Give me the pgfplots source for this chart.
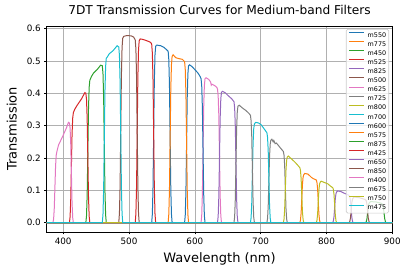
\documentclass[border=0pt]{standalone}
\usepackage{fontspec}
\setmainfont{DejaVu Sans}
\usepackage{pgfplots}
\pgfplotsset{compat=1.18}
\definecolor{c0}{HTML}{1F77B4}
\definecolor{c1}{HTML}{FF7F0E}
\definecolor{c2}{HTML}{2CA02C}
\definecolor{c3}{HTML}{D62728}
\definecolor{c4}{HTML}{9467BD}
\definecolor{c5}{HTML}{8C564B}
\definecolor{c6}{HTML}{E377C2}
\definecolor{c7}{HTML}{7F7F7F}
\definecolor{c8}{HTML}{BCBD22}
\definecolor{c9}{HTML}{17BECF}
\definecolor{gridc}{HTML}{B0B0B0}
\definecolor{legc}{HTML}{CCCCCC}
\pgfplotsset{legend image code/.code={\draw[#1] (0pt,2.35pt) -- (15pt,2.35pt);}}
\begin{document}
\begin{tikzpicture}
\path[use as bounding box] (-46.7pt,-40pt) rectangle (360.3pt,232pt);
\begin{axis}[
  at={(0pt,0pt)}, anchor=south west,
  scale only axis, width=345.6pt, height=206pt,
  xmin=375, xmax=900, ymin=-0.029, ymax=0.608,
  xtick={400,500,600,700,800,900},
  ytick={0,0.1,0.2,0.3,0.4,0.5,0.6},
  grid=major, major grid style={gridc, line width=0.6pt},
  axis line style={black, line width=0.6pt},
  tick style={black, line width=0.6pt}, major tick length=2.4pt,
  tick align=outside, tick pos=left,
  tick label style={font=\fontsize{8.8pt}{10pt}\selectfont},
  /pgf/number format/assume math mode=true,
  yticklabel style={/pgf/number format/.cd, fixed, fixed zerofill, precision=1},
  xticklabel style={/pgf/number format/.cd, fixed, precision=0, 1000 sep={}},
  title={7DT Transmission Curves for Medium-band Filters},
  every axis title shift=0pt,
  title style={at={(axis description cs:0.5,1.0534)}, anchor=base, yshift=0pt, font=\fontsize{12.2pt}{14pt}\selectfont},
  xlabel={Wavelength (nm)},
  xlabel style={at={(axis description cs:0.5,-0.1505)}, anchor=base, font=\fontsize{13pt}{15pt}\selectfont},
  ylabel={Transmission},
  ylabel style={at={(axis description cs:-0.0868,0.5)}, anchor=base, font=\fontsize{13pt}{15pt}\selectfont},
  legend cell align=left,
  legend style={at={(axis description cs:1,1)}, anchor=north east, xshift=-3.3pt, yshift=-3pt,
    draw=legc, fill=white, fill opacity=0.8, text opacity=1, rounded corners=1.5pt, line width=0.6pt,
    inner xsep=2.5pt, inner ysep=1pt, font=\fontsize{6.4pt}{7pt}\selectfont, row sep=0pt,
    nodes={inner sep=0pt, text height=6.9pt, text depth=2.19pt},
    /tikz/every odd column/.append style={column sep=3pt}},
  every axis plot/.append style={line width=1pt},
]
% m550
\addplot[c0] coordinates {(375,0)(534.5,0)(535.5,0.027)(536.5,0.109)(537.5,0.273)(538.5,0.436)(539.5,0.518)(540.5,0.545)(542,0.549)(548,0.547)(553,0.542)(557,0.535)(559.5,0.53)(560.5,0.504)(561.5,0.424)(562.5,0.265)(563.5,0.106)(564.5,0.027)(565.5,0)(900,0)};
\addlegendentry{m550}
% m775
\addplot[c1] coordinates {(375,0)(759.5,0)(760.5,0.007)(761.5,0.03)(762.5,0.074)(763.5,0.118)(764.5,0.141)(765.5,0.148)(767,0.152)(772,0.15)(777,0.14)(780,0.136)(784.5,0.132)(785.5,0.125)(786.5,0.106)(787.5,0.066)(788.5,0.026)(789.5,0.007)(790.5,0)(900,0)};
\addlegendentry{m775}
% m450
\addplot[c2] coordinates {(375,0)(434.5,0)(435.5,0.022)(436.5,0.088)(437.5,0.22)(438.5,0.352)(439.5,0.418)(440.5,0.44)(443,0.452)(446,0.462)(452,0.474)(457,0.487)(459.5,0.485)(460.5,0.461)(461.5,0.388)(462.5,0.243)(463.5,0.097)(464.5,0.024)(465.5,0)(900,0)};
\addlegendentry{m450}
% m525
\addplot[c3] coordinates {(375,0)(509.5,0)(510.5,0.028)(511.5,0.112)(512.5,0.281)(513.5,0.45)(514.5,0.534)(515.5,0.562)(517,0.568)(520,0.567)(525,0.564)(530,0.56)(533,0.557)(534.5,0.552)(535.5,0.524)(536.5,0.442)(537.5,0.276)(538.5,0.11)(539.5,0.028)(540.5,0)(900,0)};
\addlegendentry{m525}
% m825
\addplot[c4] coordinates {(375,0)(809.5,0)(810.5,0.005)(811.5,0.019)(812.5,0.048)(813.5,0.076)(814.5,0.09)(815.5,0.095)(817,0.098)(822,0.096)(828,0.09)(832,0.087)(834.5,0.083)(835.5,0.079)(836.5,0.066)(837.5,0.042)(838.5,0.017)(839.5,0.004)(840.5,0)(900,0)};
\addlegendentry{m825}
% m500
\addplot[c5] coordinates {(375,0)(484.5,0)(485.5,0.029)(486.5,0.114)(487.5,0.285)(488.5,0.456)(489.5,0.542)(490.5,0.57)(492,0.576)(496,0.578)(500,0.578)(504,0.577)(507,0.574)(509.5,0.565)(510.5,0.537)(511.5,0.452)(512.5,0.283)(513.5,0.113)(514.5,0.028)(515.5,0)(900,0)};
\addlegendentry{m500}
% m625
\addplot[c6] coordinates {(375,0)(609.5,0)(610.5,0.022)(611.5,0.089)(612.5,0.223)(613.5,0.356)(614.5,0.423)(615.5,0.445)(617,0.448)(621,0.443)(624,0.435)(625,0.425)(626,0.428)(630,0.424)(633.5,0.418)(634.5,0.412)(635.5,0.391)(636.5,0.33)(637.5,0.206)(638.5,0.082)(639.5,0.021)(640.5,0)(900,0)};
\addlegendentry{m625}
% m725
\addplot[c7] coordinates {(375,0)(709.5,0)(710.5,0.013)(711.5,0.051)(712.5,0.128)(713.5,0.204)(714.5,0.242)(715.5,0.255)(717,0.258)(719,0.25)(720,0.254)(722,0.244)(724,0.246)(728,0.236)(732,0.226)(734.5,0.22)(735.5,0.209)(736.5,0.176)(737.5,0.11)(738.5,0.044)(739.5,0.011)(740.5,0)(900,0)};
\addlegendentry{m725}
% m800
\addplot[c8] coordinates {(375,0)(784.5,0)(785.5,0.006)(786.5,0.025)(787.5,0.063)(788.5,0.1)(789.5,0.119)(790.5,0.125)(792,0.128)(797,0.124)(802,0.12)(806,0.113)(809.5,0.108)(810.5,0.103)(811.5,0.086)(812.5,0.054)(813.5,0.022)(814.5,0.005)(815.5,0)(900,0)};
\addlegendentry{m800}
% m700
\addplot[c9] coordinates {(375,0)(684.5,0)(685.5,0.015)(686.5,0.061)(687.5,0.153)(688.5,0.244)(689.5,0.29)(690.5,0.305)(692.5,0.31)(697,0.308)(701,0.302)(706,0.288)(709.5,0.278)(710.5,0.264)(711.5,0.222)(712.5,0.139)(713.5,0.056)(714.5,0.014)(715.5,0)(900,0)};
\addlegendentry{m700}
% m600
\addplot[c0] coordinates {(375,0)(584.5,0)(585.5,0.024)(586.5,0.097)(587.5,0.243)(588.5,0.388)(589.5,0.461)(590.5,0.485)(592,0.488)(596,0.482)(601,0.471)(605,0.462)(608,0.452)(609.5,0.445)(610.5,0.423)(611.5,0.356)(612.5,0.223)(613.5,0.089)(614.5,0.022)(615.5,0)(900,0)};
\addlegendentry{m600}
% m575
\addplot[c1] coordinates {(375,0)(559.5,0)(560.5,0.026)(561.5,0.103)(562.5,0.257)(563.5,0.411)(564.5,0.488)(565.5,0.514)(567,0.519)(571,0.51)(576,0.507)(581,0.505)(584.5,0.498)(585.5,0.473)(586.5,0.398)(587.5,0.249)(588.5,0.1)(589.5,0.025)(590.5,0)(900,0)};
\addlegendentry{m575}
% m875
\addplot[c2] coordinates {(375,0)(859.5,0)(860.5,0.003)(861.5,0.012)(862.5,0.031)(863.5,0.05)(864.5,0.059)(865.5,0.062)(867,0.065)(875,0.064)(883,0.06)(884.5,0.058)(885.5,0.055)(886.5,0.046)(887.5,0.029)(888.5,0.012)(889.5,0.003)(890.5,0)(900,0)};
\addlegendentry{m875}
% m425
\addplot[c3] coordinates {(375,0)(409.5,0)(410.5,0.017)(411.5,0.068)(412.5,0.17)(413.5,0.272)(414.5,0.323)(415.5,0.34)(417.5,0.35)(421,0.362)(428,0.383)(433,0.402)(434.5,0.4)(435.5,0.38)(436.5,0.32)(437.5,0.2)(438.5,0.08)(439.5,0.02)(440.5,0)(900,0)};
\addlegendentry{m425}
% m650
\addplot[c4] coordinates {(375,0)(634.5,0)(635.5,0.02)(636.5,0.081)(637.5,0.202)(638.5,0.322)(639.5,0.383)(640.5,0.403)(642,0.406)(646,0.402)(651,0.392)(656,0.383)(659.5,0.374)(660.5,0.355)(661.5,0.299)(662.5,0.187)(663.5,0.075)(664.5,0.019)(665.5,0)(900,0)};
\addlegendentry{m650}
% m850
\addplot[c5] coordinates {(375,0)(834.5,0)(835.5,0.004)(836.5,0.015)(837.5,0.038)(838.5,0.061)(839.5,0.072)(840.5,0.076)(842,0.079)(850,0.077)(858,0.072)(859.5,0.07)(860.5,0.067)(861.5,0.056)(862.5,0.035)(863.5,0.014)(864.5,0.004)(865.5,0)(900,0)};
\addlegendentry{m850}
% m400
\addplot[c6] coordinates {(375,0)(384.5,0)(385.5,0.011)(386.5,0.044)(387.5,0.11)(388.5,0.176)(389.5,0.209)(390.5,0.22)(393,0.24)(400,0.27)(405,0.293)(408,0.31)(409.5,0.308)(410.5,0.293)(411.5,0.246)(412.5,0.154)(413.5,0.062)(414.5,0.015)(415.5,0)(900,0)};
\addlegendentry{m400}
% m675
\addplot[c7] coordinates {(375,0)(659.5,0)(660.5,0.018)(661.5,0.072)(662.5,0.18)(663.5,0.288)(664.5,0.342)(665.5,0.36)(667.5,0.363)(672,0.355)(678,0.346)(683,0.336)(684.5,0.332)(685.5,0.315)(686.5,0.266)(687.5,0.166)(688.5,0.066)(689.5,0.017)(690.5,0)(900,0)};
\addlegendentry{m675}
% m750
\addplot[c8] coordinates {(375,0)(734.5,0)(735.5,0.01)(736.5,0.041)(737.5,0.102)(738.5,0.162)(739.5,0.193)(740.5,0.203)(742,0.206)(748,0.195)(753,0.185)(757,0.176)(759.5,0.17)(760.5,0.162)(761.5,0.136)(762.5,0.085)(763.5,0.034)(764.5,0.009)(765.5,0)(900,0)};
\addlegendentry{m750}
% m475
\addplot[c9] coordinates {(375,0)(459.5,0)(460.5,0.025)(461.5,0.102)(462.5,0.254)(463.5,0.406)(464.5,0.483)(465.5,0.508)(467,0.512)(470,0.522)(476,0.532)(482,0.547)(484.5,0.543)(485.5,0.516)(486.5,0.434)(487.5,0.272)(488.5,0.109)(489.5,0.027)(490.5,0)(900,0)};
\addlegendentry{m475}
\end{axis}
\end{tikzpicture}
\end{document}
